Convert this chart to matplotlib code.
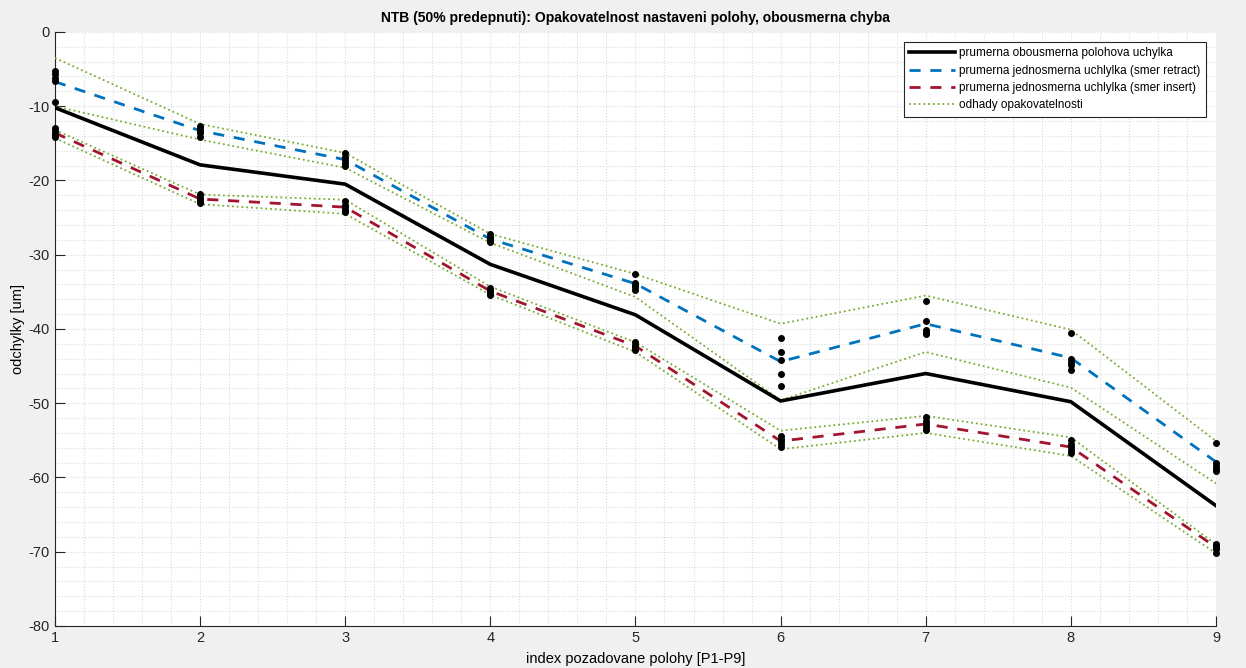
import matplotlib.pyplot as plt
from matplotlib.ticker import MultipleLocator

plt.rcParams['font.family'] = ['Liberation Sans', 'DejaVu Sans']
plt.rcParams['axes.unicode_minus'] = False

# pozice P1..P9
positions = [1, 2, 3, 4, 5, 6, 7, 8, 9]

# prumerna obousmerna polohova uchylka
mean_both = [-10.2, -17.9, -20.5, -31.3, -38.1, -49.7, -46.0, -49.8, -63.8]
# prumerne jednosmerne uchylky
mean_retract = [-6.7, -13.3, -17.2, -27.9, -33.9, -44.4, -39.3, -43.9, -57.9]
mean_insert = [-13.6, -22.5, -23.6, -34.9, -42.3, -55.1, -52.8, -55.9, -69.4]

# odhady opakovatelnosti (horni/dolni mez pro oba smery)
retract_upper = [-3.5, -12.4, -16.3, -27.2, -32.6, -39.3, -35.5, -40.1, -55.1]
retract_lower = [-10.0, -14.5, -18.3, -28.4, -35.7, -49.6, -43.1, -47.9, -60.8]
insert_upper = [-13.2, -21.9, -22.6, -34.3, -41.8, -53.7, -51.7, -54.6, -69.0]
insert_lower = [-14.3, -23.2, -24.5, -35.4, -43.1, -56.2, -54.0, -57.1, -70.2]

# namerene hodnoty (5 opakovani v kazdem smeru)
meas_retract = [
    [-5.2, -5.7, -6.2, -6.6, -9.5],
    [-12.7, -13.0, -13.3, -13.6, -14.2],
    [-16.3, -16.9, -17.3, -17.6, -18.0],
    [-27.2, -27.6, -27.9, -28.1, -28.3],
    [-32.6, -33.8, -34.1, -34.4, -34.7],
    [-41.2, -43.1, -44.2, -46.1, -47.7],
    [-36.2, -38.9, -40.1, -40.5, -40.7],
    [-40.5, -44.0, -44.5, -44.9, -45.5],
    [-55.3, -58.0, -58.4, -58.8, -59.1],
]
meas_insert = [
    [-13.0, -13.4, -13.7, -13.9, -14.1],
    [-21.8, -22.2, -22.5, -22.8, -23.0],
    [-22.8, -23.3, -23.6, -24.0, -24.3],
    [-34.5, -34.7, -34.9, -35.1, -35.4],
    [-41.8, -42.1, -42.4, -42.6, -42.8],
    [-54.4, -54.8, -55.1, -55.5, -55.9],
    [-51.8, -52.4, -52.8, -53.2, -53.6],
    [-55.0, -55.5, -55.9, -56.3, -56.7],
    [-69.0, -69.2, -69.4, -69.7, -70.2],
]

fig = plt.figure(figsize=(12.46, 6.68), dpi=100, facecolor='#F0F0F0')
ax = fig.add_axes([0.0441, 0.0629, 0.9318, 0.8893])

green = '#77AC30'

ax.plot(positions, mean_both, color='black', lw=2.6, label='prumerna obousmerna polohova uchylka', zorder=4)
ax.plot(positions, mean_retract, color='#0072BD', lw=2.0, ls=(0, (4, 3.5)),
        label='prumerna jednosmerna uchlylka (smer retract)', zorder=4)
ax.plot(positions, mean_insert, color='#A2142F', lw=2.0, ls=(0, (4, 3.5)),
        label='prumerna jednosmerna uchlylka (smer insert)', zorder=4)

ax.plot(positions, retract_upper, color=green, lw=1.3, ls=':', label='odhady opakovatelnosti', zorder=3)
for band in (retract_lower, insert_upper, insert_lower):
    ax.plot(positions, band, color=green, lw=1.3, ls=':', zorder=3)

for p, vals in zip(positions, meas_retract):
    ax.plot([p] * len(vals), vals, 'o', color='black', ms=4, zorder=5, clip_on=False)
for p, vals in zip(positions, meas_insert):
    ax.plot([p] * len(vals), vals, 'o', color='black', ms=4, zorder=5, clip_on=False)

ax.set_xlim(1, 9)
ax.set_ylim(-80, 0)
ax.xaxis.set_major_locator(MultipleLocator(1))
ax.xaxis.set_minor_locator(MultipleLocator(0.2))
ax.yaxis.set_major_locator(MultipleLocator(10))
ax.yaxis.set_minor_locator(MultipleLocator(2))
ax.grid(True, which='both', color='#DADADA', ls=':', lw=0.8)
ax.set_axisbelow(True)

for s in ('top', 'right'):
    ax.spines[s].set_visible(False)
for s in ('left', 'bottom'):
    ax.spines[s].set_color('#262626')
    ax.spines[s].set_linewidth(0.8)
ax.tick_params(which='major', direction='in', length=7, width=0.8, color='#262626',
               labelsize=10.5, labelcolor='#262626')
ax.tick_params(which='minor', length=0)

ax.set_title('NTB (50% predepnuti): Opakovatelnost nastaveni polohy, obousmerna chyba',
             fontsize=10, fontweight='bold', pad=7)
ax.set_xlabel('index pozadovane polohy [P1-P9]', fontsize=10.5, labelpad=5)
ax.set_ylabel('odchylky [um]', fontsize=10.5, labelpad=3)

leg = ax.legend(loc='upper right', bbox_to_anchor=(0.991, 0.983), borderaxespad=0,
                fancybox=False, edgecolor='#262626', framealpha=1, fontsize=8.5,
                handlelength=3.9, handletextpad=0.3, labelspacing=0.45, borderpad=0.45)
leg.get_frame().set_linewidth(0.8)

plt.savefig('out.png', dpi=100, facecolor=fig.get_facecolor())
